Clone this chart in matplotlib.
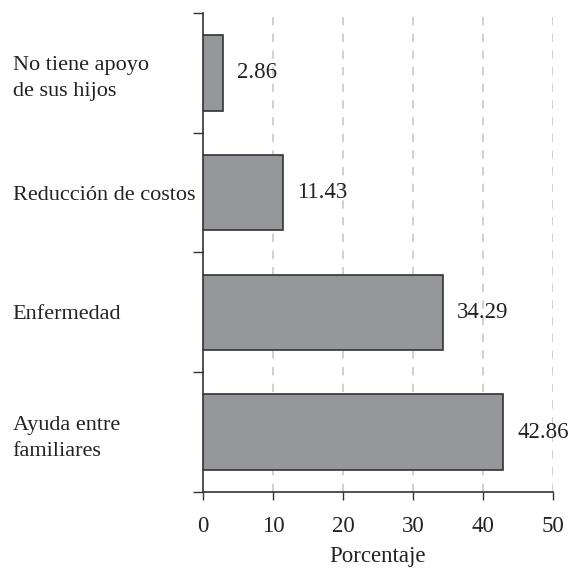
import matplotlib
matplotlib.use("Agg")
import matplotlib.pyplot as plt

categories = ["Ayuda entre\nfamiliares", "Enfermedad", "Reducción de costos", "No tiene apoyo\nde sus hijos"]
values = [42.86, 34.29, 11.43, 2.86]
xticks = [0, 10, 20, 30, 40, 50]

plt.rcParams['font.family'] = ['Liberation Serif', 'DejaVu Serif']

fig = plt.figure(figsize=(5.71, 5.69), dpi=100)
ax = fig.add_axes([0.3555, 0.1353, 0.613, 0.8419])

ypos = list(range(len(categories)))
ax.barh(ypos, values, height=0.63, color='#96979b', edgecolor='#333333', linewidth=1.2, zorder=3)

for y, v in zip(ypos, values):
    ax.text(v + 2, y, f'{v:.2f}', va='center', ha='left', fontsize=16.5, color='#222222')

ax.set_xlim(0, 50)
ax.set_ylim(-0.5, 3.5)
ax.set_xticks(xticks)
ax.set_xticklabels([str(t) for t in xticks], fontsize=16.5, color='#222222')
ax.set_yticks([-0.5, 0.5, 1.5, 2.5, 3.5])
ax.set_yticklabels([])
ax.set_yticks(ypos, minor=True)
ax.set_yticklabels(categories, minor=True, fontsize=16, color='#222222', ha='left',
                   linespacing=1.5)
ax.tick_params(axis='y', which='minor', length=0, pad=137)
ax.tick_params(axis='y', which='major', length=7, width=1, color='#333333')
ax.tick_params(axis='x', length=6, width=1, color='#333333', pad=11)

for x in xticks[1:]:
    ax.axvline(x, color='#c8c8c8', linestyle=(0, (5, 5)), linewidth=1.2, zorder=1)

for s in ['top', 'right']:
    ax.spines[s].set_visible(False)
for s in ['left', 'bottom']:
    ax.spines[s].set_color('#333333')
    ax.spines[s].set_linewidth(1.2)

ax.set_xlabel('Porcentaje', fontsize=16.5, color='#222222', labelpad=7)

fig.savefig('out.png', dpi=100)
